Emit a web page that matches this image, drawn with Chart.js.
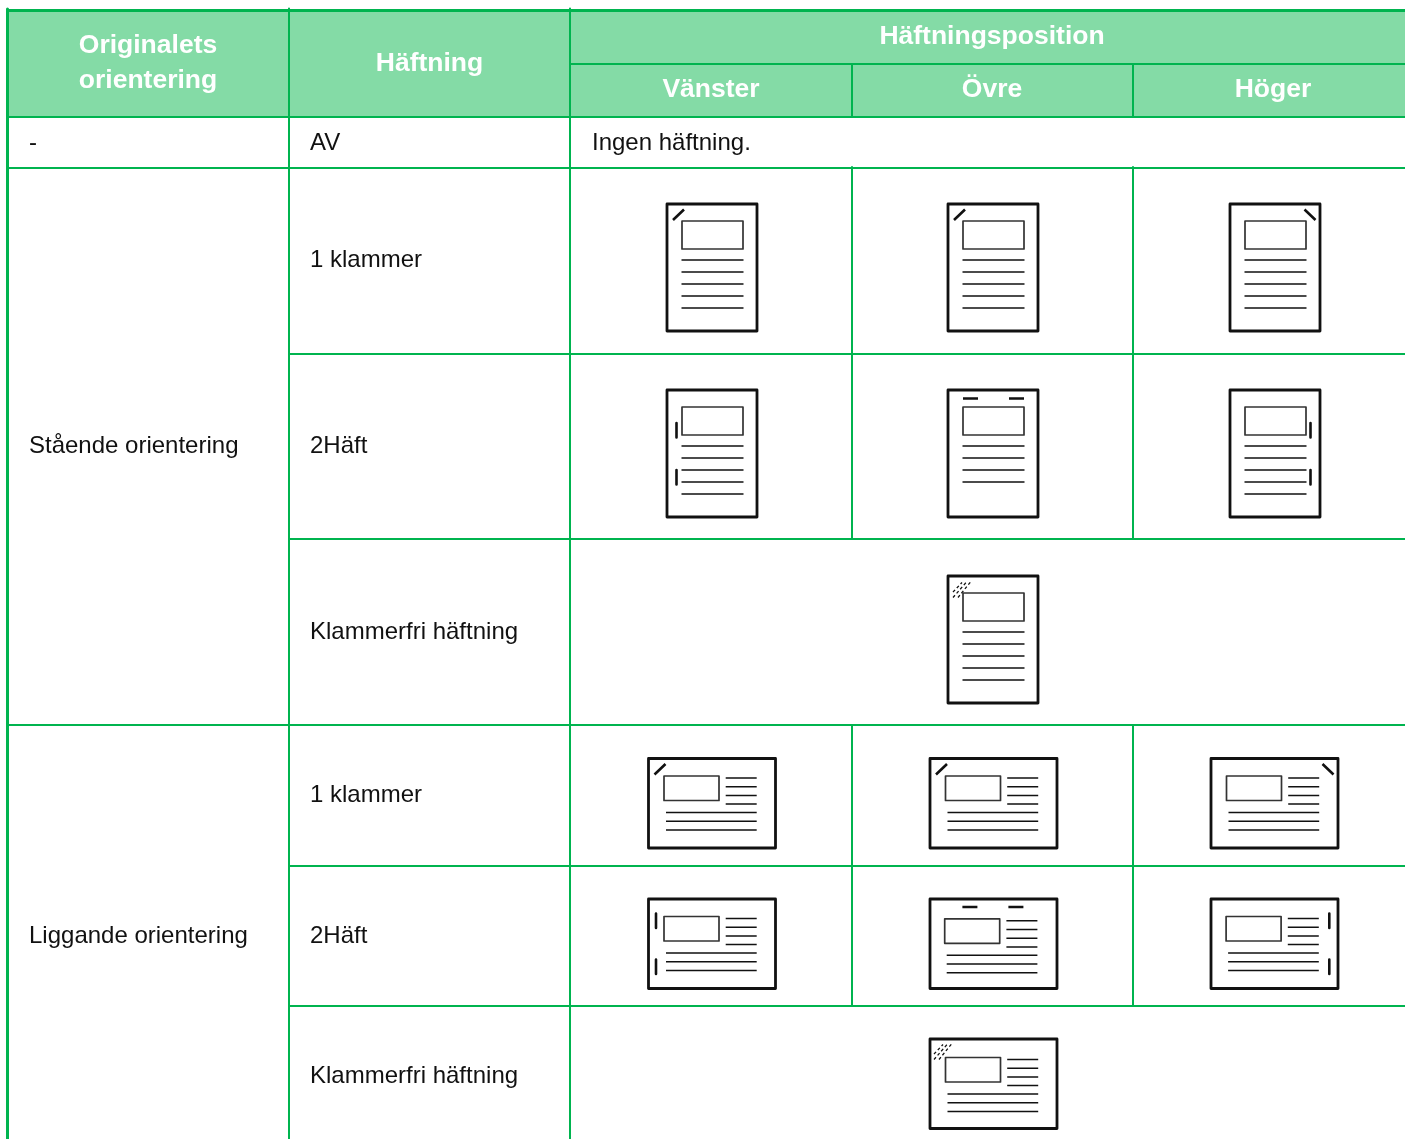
<!DOCTYPE html>
<html lang="sv">
<head>
<meta charset="utf-8">
<title>Häftning</title>
<script src="https://cdn.jsdelivr.net/npm/chart.js@4"></script>
<style>
  html, body { margin: 0; padding: 0; background: #fff; }
  #wrap { width: 1405px; height: 1139px; overflow: hidden; }
</style>
</head>
<body>
<div id="wrap"><canvas id="tabell" width="1405" height="1139"></canvas></div>
<script>
//texter
const huvudVanster = ['Originalets', 'orientering']
const huvudHaftning = 'Häftning'
const huvudPosition = 'Häftningsposition'
const positioner = ['Vänster', 'Övre', 'Höger']
const orienteringar = ['-', 'Stående orientering', 'Liggande orientering']
const haftningar = ['AV', '1 klammer', '2Häft', 'Klammerfri häftning', '1 klammer', '2Häft', 'Klammerfri häftning']
const ingen = 'Ingen häftning.'

//rutnat
const kolumner = [7.5, 289, 570, 852, 1133, 1405]
const rader = [10.5, 64, 117, 168, 354, 539, 725, 866, 1006, 1139]

//ikoner: [x, y, typ, klammer, antal rader, inre dx, inre dy]
const ikoner = [
  [667, 204, 'p', 'hornV', 5, 0, 0], [948, 204, 'p', 'hornV', 5, 0, 0], [1230, 204, 'p', 'hornH', 5, 0, 0],
  [667, 390, 'p', 'sidaV', 5, 0, 0], [948, 390, 'p', 'topp', 4, 0, 0], [1230, 390, 'p', 'sidaH', 5, 0, 0],
  [948, 576, 'p', 'fri', 5, 0, 0],
  [648.5, 758.5, 'l', 'hornV', 0, 0, 0], [930, 758.5, 'l', 'hornV', 0, 0, 0], [1211, 758.5, 'l', 'hornH', 0, 0, 0],
  [648.5, 899, 'l', 'sidaV', 0, 0, 0], [930, 899, 'l', 'topp', 0, -0.8, 2.3], [1211, 899, 'l', 'sidaH', 0, -0.4, 0],
  [930, 1039, 'l', 'fri', 0, 0, 1]
]

const GRON = '#00b44f'
const LJUSGRON = '#84dba6'
const SVART = '#111111'
const MORK = '#333333'

//samlar linjer per stil, NaN bryter linjen
let stilar = {}
function linje(pts, bredd, farg, streck) {
  const key = bredd + farg + (streck ? 's' : '')
  if (!stilar[key]) {
    stilar[key] = { type: 'scatter', showLine: true, data: [], borderColor: farg, borderWidth: bredd, pointRadius: 0,
      borderDash: streck || [], borderJoinStyle: 'round', borderCapStyle: 'butt', tension: 0, fill: false }
  }
  pts.forEach(p => stilar[key].data.push({ x: p[0], y: p[1] }))
  stilar[key].data.push({ x: NaN, y: NaN })
}
function rekt(x, y, w, h, bredd, farg) {
  linje([[x, y], [x + w, y], [x + w, y + h], [x, y + h], [x, y], [x + w, y]], bredd, farg)
}

function ritaIkon(ik) {
  const [x, y, typ, klammer, antal, dx, dy] = ik
  const w = typ == 'p' ? 90 : 127
  const h = typ == 'p' ? 127 : 89.5
  rekt(x, y, w, h, 2.8, SVART)
  if (typ == 'p') {
    rekt(x + 15 + dx, y + 17 + dy, 61, 28, 1.7, MORK)
    for (let i = 0; i < antal; i++) {
      let ly = y + 56 + 12 * i + dy
      linje([[x + 14.5 + dx, ly], [x + 76.5 + dx, ly]], 1.5, SVART)
    }
  } else {
    rekt(x + 15.5 + dx, y + 17.5 + dy, 55, 24.5, 1.7, MORK)
    ;[19.5, 28.2, 36.9, 45.6].forEach(r => linje([[x + 77.2 + dx, y + r + dy], [x + 108.2 + dx, y + r + dy]], 1.5, SVART))
    ;[54, 62.7, 71.4].forEach(r => linje([[x + 17.5 + dx, y + r + dy], [x + 108.2 + dx, y + r + dy]], 1.5, SVART))
  }
  if (klammer == 'hornV') {
    linje([[x + 6, y + 16], [x + 17, y + 5.5]], 2.6, SVART)
  } else if (klammer == 'hornH') {
    linje([[x + w - 15.5, y + 5.5], [x + w - 4.5, y + 16]], 2.6, SVART)
  } else if (klammer == 'topp') {
    let ty = typ == 'p' ? 8.5 : 8
    let tx = typ == 'p' ? [15, 61] : [32.4, 78.4]
    tx.forEach(t => linje([[x + t, y + ty], [x + t + 15, y + ty]], 2.6, SVART))
  } else if (klammer == 'sidaV' || klammer == 'sidaH') {
    let sx = typ == 'p' ? (klammer == 'sidaV' ? 9.5 : 80.5) : (klammer == 'sidaV' ? 7.5 : 118.3)
    let sy = typ == 'p' ? [33, 80] : [14.5, 60.5]
    sy.forEach(s => linje([[x + sx, y + s], [x + sx, y + s + 14.5]], 2.6, SVART))
  } else if (klammer == 'fri') {
    let f = typ == 'p' ? 0 : -1
    linje([[x + 5 + f, y + 16 + f], [x + 14 + f, y + 6.5 + f]], 1.3, SVART, [3, 2.5])
    linje([[x + 5 + f, y + 21.5 + f], [x + 18.5 + f, y + 6 + f]], 1.3, SVART, [3, 2.5])
    linje([[x + 10 + f, y + 21.5 + f], [x + 22.5 + f, y + 6 + f]], 1.3, SVART, [3, 2.5])
  }
}

//rutnatslinjer
const K = kolumner, R = rader
linje([[K[0], 9], [K[0], 1139]], 3, GRON)
linje([[6, R[0]], [1405, R[0]]], 3, GRON)
linje([[K[1], 8.5], [K[1], 1139]], 2, GRON)
linje([[K[2], 8.5], [K[2], 1139]], 2, GRON)
linje([[K[2], R[1]], [1405, R[1]]], 2, GRON)
linje([[6, R[2]], [1405, R[2]]], 2, GRON)
linje([[6, R[3]], [1405, R[3]]], 2, GRON)
linje([[K[1], R[4]], [1405, R[4]]], 2, GRON)
linje([[K[1], R[5]], [1405, R[5]]], 2, GRON)
linje([[6, R[6]], [1405, R[6]]], 2, GRON)
linje([[K[1], R[7]], [1405, R[7]]], 2, GRON)
linje([[K[1], R[8]], [1405, R[8]]], 2, GRON)
;[K[3], K[4]].forEach(k => {
  linje([[k, R[1]], [k, R[2]]], 2, GRON)
  linje([[k, 167], [k, R[5]]], 2, GRON)
  linje([[k, R[6]], [k, R[8]]], 2, GRON)
})
ikoner.forEach(ritaIkon)

//huvudets bakgrund
const bakgrund = { type: 'scatter', showLine: true, data: [{ x: K[0], y: R[0] }, { x: 1405, y: R[0] }],
  borderWidth: 0, pointRadius: 0, backgroundColor: LJUSGRON, fill: { value: R[2] } }

const texter = {
  id: 'texter',
  afterDatasetsDraw(chart) {
    const c = chart.ctx, sx = chart.scales.x, sy = chart.scales.y
    function t(txt, x, y, vit, mitten) {
      c.font = (vit ? 'bold 26.5px' : '24px') + ' "Liberation Sans", Arial, sans-serif'
      c.fillStyle = vit ? '#fff' : '#111'
      c.textAlign = mitten ? 'center' : 'left'
      c.textBaseline = 'alphabetic'
      c.fillText(txt, sx.getPixelForValue(x), sy.getPixelForValue(y))
    }
    c.save()
    t(huvudVanster[0], 148, 53, true, true)
    t(huvudVanster[1], 148, 88, true, true)
    t(huvudHaftning, 429.5, 71, true, true)
    t(huvudPosition, 992, 44, true, true)
    positioner.forEach((p, i) => t(p, [711, 992, 1273][i], 97, true, true))
    t(orienteringar[0], 29, 150)
    t(orienteringar[1], 29, 453)
    t(orienteringar[2], 29, 943)
    ;[150, 267, 453, 639, 802, 943, 1083].forEach((y, i) => t(haftningar[i], 310, y))
    t(ingen, 592, 150)
    c.restore()
  }
}

new Chart(document.getElementById('tabell'), {
  type: 'scatter',
  data: { datasets: [...Object.values(stilar), bakgrund] },
  options: {
    responsive: false,
    animation: false,
    layout: { padding: 0 },
    plugins: { legend: { display: false }, tooltip: { enabled: false }, title: { display: false } },
    scales: {
      x: { type: 'linear', display: false, min: 0, max: 1405 },
      y: { type: 'linear', display: false, min: 0, max: 1139, reverse: true }
    }
  },
  plugins: [texter]
})
</script>
</body>
</html>
